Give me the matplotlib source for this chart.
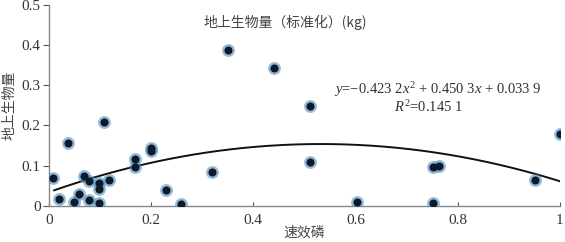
import numpy as np
import matplotlib.pyplot as plt

# scatter data
phos = [0.007, 0.019, 0.038, 0.048, 0.059, 0.069, 0.078, 0.078, 0.098, 0.098,
        0.098, 0.108, 0.118, 0.169, 0.169, 0.200, 0.200, 0.229, 0.258, 0.319,
        0.350, 0.440, 0.510, 0.510, 0.603, 0.751, 0.763, 0.751, 0.952, 1.000]
biomass = [0.070, 0.017, 0.157, 0.009, 0.029, 0.075, 0.062, 0.015, 0.057, 0.041,
           0.007, 0.208, 0.064, 0.116, 0.097, 0.145, 0.137, 0.040, 0.003, 0.084,
           0.388, 0.343, 0.249, 0.109, 0.009, 0.097, 0.099, 0.007, 0.063, 0.179]

# fitted quadratic from the equation on the chart
coef = [-0.4232, 0.4503, 0.0339]
xticks = [0, 0.2, 0.4, 0.6, 0.8, 1]
xticklabels = ['0', '0.2', '0.4', '0.6', '0.8', '1']
yticks = [0, 0.1, 0.2, 0.3, 0.4, 0.5]
yticklabels = ['0', '0.1', '0.2', '0.3', '0.4', '0.5']

cjk = ['Noto Sans CJK SC', 'DejaVu Sans']
serif = 'Liberation Serif'
grey = '#555555'

plt.rcParams['mathtext.fontset'] = 'custom'
plt.rcParams['mathtext.rm'] = 'Liberation Serif'
plt.rcParams['mathtext.it'] = 'Liberation Serif:italic'

fig = plt.figure(figsize=(5.65, 2.42), dpi=100)
ax = fig.add_axes([0.0867, 0.15, 0.9043, 0.829])

# blue halo + dark core
ax.scatter(phos, biomass, s=85, color='#4b8cc0', alpha=0.6, zorder=3, lw=0)
ax.scatter(phos, biomass, s=34, color='#0e1a2a', zorder=4, lw=0)

xf = np.linspace(0.01, 1.0, 200)
ax.plot(xf, np.polyval(coef, xf), color='#111111', lw=1.4, zorder=2)

ax.set_xlim(0, 1)
ax.set_ylim(0, 0.5)
ax.set_xticks(xticks)
ax.set_xticklabels(xticklabels)
ax.set_yticks(yticks)
ax.set_yticklabels(yticklabels)
for lab in ax.get_xticklabels() + ax.get_yticklabels():
    lab.set_fontfamily(serif)
    lab.set_fontsize(11)
    lab.set_color('#333333')

ax.tick_params(axis='x', direction='in', length=3, color=grey, pad=6)
ax.tick_params(axis='y', direction='out', length=4, color=grey, pad=2)

for s in ['top', 'right']:
    ax.spines[s].set_visible(False)
for s in ['left', 'bottom']:
    ax.spines[s].set_color('#888888')
    ax.spines[s].set_linewidth(1.0)

ax.set_xlabel('速效磷', family=cjk, fontsize=10, color='#444444', labelpad=-1)
ax.set_ylabel('地上生物量', family=cjk, fontsize=10, color='#444444', labelpad=4)

ax.text(0.463, 0.456, '地上生物量（标准化）(kg)', family=cjk, fontsize=10,
        color='#444444', ha='center', va='center')
ax.text(0.557, 0.289, r'$y$=−0.423 2$x^{2}$ + 0.450 3$x$ + 0.033 9',
        family=serif, fontsize=10.5, color='#333333', ha='left', va='center')
ax.text(0.675, 0.246, r'$R^{2}$=0.145 1',
        family=serif, fontsize=10.5, color='#333333', ha='left', va='center')

fig.savefig('out.png', dpi=100)
